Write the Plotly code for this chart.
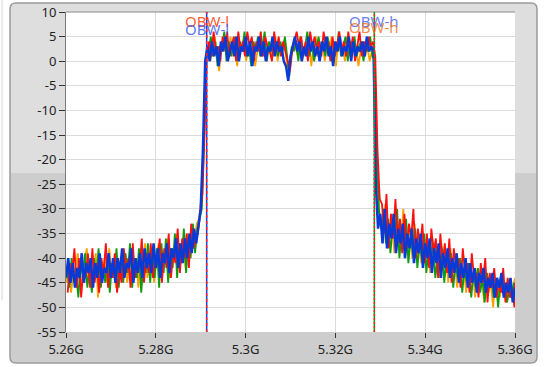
import numpy as np
import plotly.graph_objects as go

# ---------------- data ----------------
F_START = 5.26          # GHz
F_STEP = 0.0005         # GHz (0.5 MHz)

x_tick_vals = [5.26, 5.28, 5.30, 5.32, 5.34, 5.36]
x_tick_text = ["5.26G", "5.28G", "5.3G", "5.32G", "5.34G", "5.36G"]
y_tick_vals = [10, 5, 0, -5, -10, -15, -20, -25, -30, -35, -40, -45, -50, -55]
y_tick_text = ["10", "5", "0", "-5", "-10", "-15", "-20", "-25", "-30", "-35", "-40", "-45", "-50", "-55"]

series_names = ["orange", "green", "red", "blue"]
series_colors = ["#ffa000", "#109a10", "#ff1010", "#0a3ad6"]
series_widths = [1.8, 1.8, 1.8, 2.5]
# sweep start offsets of each trace (GHz)
series_offsets = [0.000125, 0.00025, 0.000375, 0.0]

orange_vals = (
    [-45,-41,-47,-43,-42,-39,-46,-44,-41,-38,
     -45,-42,-44,-39,-48,-41,-43,-40,-45,-38,
     -43,-41,-46,-40,-44,-42,-39,-45,-41,-38,
     -43,-40,-46,-39,-42,-37,-44,-41,-39,-45,
     -40,-37,-43,-39,-41,-36,-44,-38,-40,-35,
     -41,-38,-36,-42,-35,-39,-34,-37,-33,-32]
    + [-28, -17, 0]
    + [3,0,2,5,1,-2,4,2,3,0,
       5,1,3,-1,4,2,5,0,3,1,
       4,-1,2,5,1,3,0,4,2,1,
       5,0,3,2,4,0,-2,1,4,3,
       1,5,0,3,2,4,-1,3,5,1,
       2,4,0,3,1,5,2,-1,4,2,
       3,0,5,1,4,2,3,-1,2,4,
       1,3,0,2]
    + [0, -19, -30]
    + [-32,-36,-29,-38,-34,-31,-39,-35,-33,-37,
       -30,-39,-36,-34,-40,-33,-38,-36,-41,-35,
       -39,-37,-43,-36,-40,-38,-44,-37,-42,-39,
       -45,-38,-43,-41,-46,-40,-44,-42,-47,-41,
       -45,-43,-48,-42,-46,-44,-49,-43,-47,-45,
       -50,-44,-46,-48,-43,-47,-49,-45,-48,-46,
       -44]
)

green_vals = (
    [-42,-46,-40,-45,-43,-48,-41,-44,-39,-46,
     -42,-47,-40,-44,-38,-46,-42,-45,-40,-47,
     -41,-44,-38,-46,-40,-45,-39,-43,-37,-46,
     -40,-44,-38,-47,-41,-43,-37,-45,-39,-44,
     -38,-46,-37,-43,-36,-45,-38,-42,-35,-44,
     -37,-41,-34,-43,-36,-40,-33,-39,-34,-32]
    + [-30, -16, 1]
    + [2,5,1,4,-1,3,2,6,0,4,
       1,3,5,0,4,2,6,1,3,-1,
       4,2,5,1,3,6,0,4,2,5,
       3,1,4,2,5,1,-3,3,2,4,
       0,5,2,3,6,1,4,0,3,5,
       2,4,1,5,3,0,4,2,6,1,
       3,5,0,4,2,5,1,3,4,0,
       3,2,5,1]
    + [0, -20, -31]
    + [-34,-30,-37,-32,-39,-34,-36,-30,-40,-35,
       -38,-32,-41,-36,-39,-34,-42,-37,-40,-35,
       -43,-38,-41,-37,-44,-40,-42,-38,-45,-40,
       -43,-39,-46,-41,-44,-40,-47,-42,-45,-41,
       -48,-43,-46,-42,-47,-44,-49,-43,-46,-44,
       -48,-45,-50,-44,-47,-45,-49,-46,-48,-45,
       -47]
)

red_vals = (
    [-47,-41,-43,-38,-46,-40,-48,-42,-44,-39,
     -46,-38,-45,-41,-47,-40,-43,-37,-46,-41,
     -44,-39,-47,-42,-45,-38,-43,-40,-46,-37,
     -44,-41,-42,-36,-45,-39,-43,-37,-44,-40,
     -41,-36,-45,-38,-42,-35,-44,-39,-41,-34,
     -43,-36,-40,-35,-42,-33,-38,-36,-35,-31]
    + [-27, -14, 2]
    + [4,1,6,2,3,0,5,3,6,1,
       3,5,0,6,2,4,1,6,3,5,
       0,4,2,6,1,5,3,2,0,6,
       2,5,1,4,2,0,-2,2,4,6,
       3,5,1,4,0,6,3,5,2,4,
       1,6,3,4,0,5,1,3,6,2,
       4,1,6,2,5,0,3,6,1,4,
       2,5,3,4]
    + [1, -18, -28]
    + [-29,-35,-27,-38,-31,-36,-28,-37,-32,-39,
       -31,-38,-33,-36,-30,-40,-34,-38,-33,-41,
       -35,-42,-34,-39,-36,-44,-35,-41,-37,-43,
       -36,-45,-38,-42,-40,-46,-38,-43,-41,-47,
       -39,-44,-43,-48,-41,-45,-40,-49,-43,-46,
       -42,-48,-45,-47,-42,-49,-44,-48,-46,-50,
       -45]
)

blue_vals = (
    [-44,-40,-45,-41,-46,-42,-44,-39,-45,-41,
     -43,-40,-46,-41,-44,-39,-45,-42,-43,-39,
     -44,-40,-45,-40,-43,-38,-44,-41,-42,-38,
     -45,-40,-43,-39,-44,-38,-42,-39,-43,-37,
     -42,-38,-44,-39,-41,-37,-43,-38,-40,-36,
     -42,-37,-41,-36,-40,-35,-39,-34,-37,-33]
    + [-30, -18, 0]
    + [3,0,4,1,3,-1,4,2,5,0,
       2,4,1,5,0,3,2,5,1,4,
       -1,3,2,5,1,4,0,3,2,5,
       1,4,2,3,0,-1,-4,1,3,5,
       2,4,0,3,1,5,2,4,1,3,
       0,4,2,5,1,3,-1,4,2,5,
       1,3,2,5,0,4,1,3,2,4,
       1,5,2,3]
    + [2, -25, -34]
    + [-31,-37,-30,-38,-33,-36,-31,-39,-34,-37,
       -33,-40,-35,-38,-34,-41,-36,-39,-35,-42,
       -37,-40,-36,-43,-38,-41,-37,-44,-39,-42,
       -38,-44,-40,-43,-39,-45,-41,-44,-40,-46,
       -41,-45,-42,-47,-43,-45,-42,-47,-44,-46,
       -43,-48,-44,-46,-43,-48,-45,-47,-44,-49,
       -46]
)

# OBW cursor positions (GHz) and label texts
obw_low = 5.29133
obw_high = 5.32867
obw_low_label = "OBW-l"
obw_high_label = "OBW-h"

all_vals = [orange_vals, green_vals, red_vals, blue_vals]
for v in all_vals:
    assert len(v) == 201, len(v)

# ---------------- figure ----------------
W, H = 544, 367
ML, MR, MT, MB = 66, 29, 12, 35
PW, PH = W - ML - MR, H - MT - MB

def px_x(px):
    return (px - ML) / PW

def px_y(py):
    return (H - MB - py) / PH

def rounded_path(x0, y0, x1, y1, r, top=True, bottom=True):
    rt = r if top else 0
    rb = r if bottom else 0
    p = f"M {px_x(x0 + rt)} {px_y(y0)} L {px_x(x1 - rt)} {px_y(y0)} "
    if rt:
        p += f"Q {px_x(x1)} {px_y(y0)} {px_x(x1)} {px_y(y0 + rt)} "
    p += f"L {px_x(x1)} {px_y(y1 - rb)} "
    if rb:
        p += f"Q {px_x(x1)} {px_y(y1)} {px_x(x1 - rb)} {px_y(y1)} "
    p += f"L {px_x(x0 + rb)} {px_y(y1)} "
    if rb:
        p += f"Q {px_x(x0)} {px_y(y1)} {px_x(x0)} {px_y(y1 - rb)} "
    p += f"L {px_x(x0)} {px_y(y0 + rt)} "
    if rt:
        p += f"Q {px_x(x0)} {px_y(y0)} {px_x(x0 + rt)} {px_y(y0)} "
    p += "Z"
    return p

fig = go.Figure()

for name, color, width, off, vals in zip(series_names, series_colors, series_widths,
                                         series_offsets, all_vals):
    freqs = np.clip(F_START + off + F_STEP * np.arange(len(vals)), 5.26, 5.36)
    fig.add_trace(go.Scatter(
        x=freqs, y=vals, mode="lines", name=name,
        line=dict(color=color, width=width), hoverinfo="skip"))

shapes = []
# panel background
shapes.append(dict(type="path", xref="paper", yref="paper", layer="below",
                   path=rounded_path(10, 3, 537, 363, 6),
                   fillcolor="#dedede", line=dict(width=0)))
shapes.append(dict(type="path", xref="paper", yref="paper", layer="below",
                   path=rounded_path(10.5, 173, 536.5, 362.5, 6, top=False),
                   fillcolor="#cdcdcd", line=dict(width=0)))
shapes.append(dict(type="path", xref="paper", yref="paper", layer="below",
                   path=rounded_path(10, 3, 537, 363, 6),
                   fillcolor="rgba(0,0,0,0)", line=dict(color="#9a9a9a", width=1.5)))
shapes.append(dict(type="line", xref="paper", yref="paper", layer="below",
                   x0=px_x(2), x1=px_x(2), y0=px_y(0), y1=px_y(300),
                   line=dict(color="#d4d4d4", width=1)))
# white plotting area
shapes.append(dict(type="rect", xref="paper", yref="paper", layer="below",
                   x0=0, x1=1, y0=0, y1=1, fillcolor="white", line=dict(width=0)))
# plot top border
shapes.append(dict(type="line", xref="paper", yref="paper", layer="above",
                   x0=0, x1=1, y0=1, y1=1, line=dict(color="#8a8a8a", width=1)))

# OBW cursors
shapes.append(dict(type="line", xref="x", yref="paper", x0=obw_low, x1=obw_low, y0=0, y1=1,
                   line=dict(color="#1040e0", width=1.5)))
shapes.append(dict(type="line", xref="x", yref="paper", x0=obw_low, x1=obw_low, y0=0, y1=1,
                   line=dict(color="#ff2020", width=1.5, dash="3px,3px")))
shapes.append(dict(type="line", xref="x", yref="paper", x0=obw_high, x1=obw_high, y0=0, y1=1,
                   line=dict(color="#109a10", width=1.5)))
shapes.append(dict(type="line", xref="x", yref="paper", x0=obw_high, x1=obw_high, y0=0, y1=1,
                   line=dict(color="#ff2020", width=1.5, dash="2px,2px")))

annotations = []
def lab(text, x, y, color):
    annotations.append(dict(text=text, x=x, y=y, xref="x", yref="y", showarrow=False,
                            xanchor="center", yanchor="middle",
                            font=dict(family="Noto Sans", size=15, color=color)))

lab(obw_low_label, obw_low, 8.2, "rgba(255,70,20,0.9)")
lab(obw_low_label, obw_low, 6.45, "rgba(60,90,235,0.85)")
lab(obw_high_label, obw_high, 8.1, "rgba(80,100,235,0.85)")
lab(obw_high_label, obw_high, 7.0, "rgba(235,110,20,0.8)")

fig.update_layout(
    width=W, height=H,
    margin=dict(l=ML, r=MR, t=MT, b=MB, pad=0, autoexpand=False),
    paper_bgcolor="white", plot_bgcolor="white",
    showlegend=False,
    shapes=shapes, annotations=annotations,
    font=dict(family="Noto Sans", size=13, color="#222222"),
    xaxis=dict(range=[5.26, 5.36], tickvals=x_tick_vals, ticktext=x_tick_text,
               showgrid=True, gridcolor="#dcdcdc", gridwidth=1, zeroline=False,
               ticks="outside", ticklen=5, tickcolor="#333333", tickwidth=1,
               showline=False, automargin=False, tickfont=dict(size=13, color="#222222")),
    yaxis=dict(range=[-55, 10], tickvals=y_tick_vals, ticktext=y_tick_text,
               showgrid=True, gridcolor="#dcdcdc", gridwidth=1, zeroline=False,
               ticks="outside", ticklen=6, tickcolor="#333333", tickwidth=1,
               showline=True, linecolor="#7a7a7a", linewidth=1, automargin=False,
               tickfont=dict(size=13, color="#222222")),
)

fig.write_html("out.html", config={"displayModeBar": False},
               post_script="document.body.style.margin='0';document.body.style.overflow='hidden';")
